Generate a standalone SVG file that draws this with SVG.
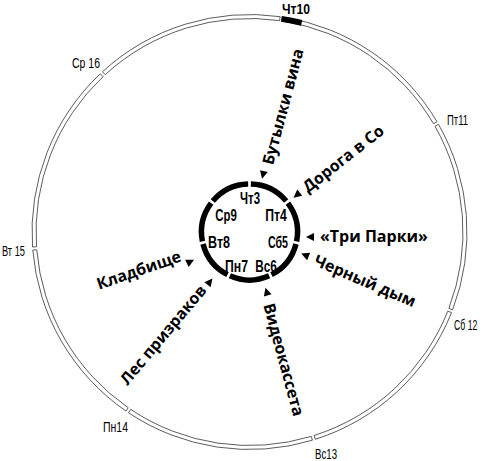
<svg xmlns="http://www.w3.org/2000/svg" xmlns:xlink="http://www.w3.org/1999/xlink" width="484" height="461" viewBox="0 0 484 461">
<style>
.band{fill:#fff;stroke:#333;stroke-width:0.8}
.ring{fill:none;stroke:#000;stroke-width:5.5}
.day{font-family:"Liberation Sans",Arial,sans-serif;font-weight:700;font-size:17px;fill:#000;text-anchor:middle}
.od{font-family:"Liberation Sans",Arial,sans-serif;font-size:15.5px;fill:#000}
.lbl{font-family:"Open Sans","Noto Sans",sans-serif;font-weight:700;font-size:16px;fill:#000}
</style>
<defs>
<path id="arr" d="M-4,0 L4,-4 L4,4 Z" fill="#000"/>
</defs>
<rect width="484" height="461" fill="#fff"/>
<g id="outer-ring">
<path class="band" d="M283.15,17.12 A217.5,217.5 0 0 1 436.97,121.71 L433.52,123.73 A213.5,213.5 0 0 0 282.53,21.07 Z"/>
<path class="band" d="M438.49,124.34 A217.5,217.5 0 0 1 452.61,309.80 L448.87,308.37 A213.5,213.5 0 0 0 435.01,126.32 Z"/>
<path class="band" d="M451.50,312.63 A217.5,217.5 0 0 1 315.30,439.31 L314.09,435.50 A213.5,213.5 0 0 0 447.79,311.15 Z"/>
<path class="band" d="M312.40,440.21 A217.5,217.5 0 0 1 128.47,412.72 L130.70,409.39 A213.5,213.5 0 0 0 311.24,436.38 Z"/>
<path class="band" d="M125.96,411.02 A217.5,217.5 0 0 1 32.75,250.05 L36.74,249.72 A213.5,213.5 0 0 0 128.23,407.73 Z"/>
<path class="band" d="M32.52,247.02 A217.5,217.5 0 0 1 100.25,73.79 L103.00,76.70 A213.5,213.5 0 0 0 36.51,246.74 Z"/>
<path class="band" d="M102.47,71.72 A217.5,217.5 0 0 1 280.15,16.67 L279.58,20.63 A213.5,213.5 0 0 0 105.18,74.67 Z"/>
<path d="M281.80,15.90 A218.5,218.5 0 0 1 302.36,19.99 L300.91,25.81 A212.5,212.5 0 0 0 280.91,21.83 Z" fill="#000"/>
</g>
<g id="outer-days">
<text class="od" x="282" y="14" font-weight="700" textLength="28" lengthAdjust="spacingAndGlyphs">Чт10</text>
<text class="od" x="447" y="125" textLength="21" lengthAdjust="spacingAndGlyphs">Пт11</text>
<text class="od" transform="translate(454,330) scale(0.56,1)">Сб 12</text>
<text class="od" x="315" y="459" textLength="22" lengthAdjust="spacingAndGlyphs">Вс13</text>
<text class="od" x="103" y="432" textLength="25" lengthAdjust="spacingAndGlyphs">Пн14</text>
<text class="od" x="2" y="256" textLength="23" lengthAdjust="spacingAndGlyphs">Вт 15</text>
<text class="od" x="72" y="68" textLength="28" lengthAdjust="spacingAndGlyphs">Ср 16</text>
</g>
<g id="inner-ring">
<path class="ring" d="M250.84,184.02 A48,48 0 0 1 286.18,201.04"/>
<path class="ring" d="M287.85,203.13 A48,48 0 0 1 296.58,241.37"/>
<path class="ring" d="M295.98,243.99 A48,48 0 0 1 271.52,274.65"/>
<path class="ring" d="M269.11,275.81 A48,48 0 0 1 229.89,275.81"/>
<path class="ring" d="M227.48,274.65 A48,48 0 0 1 203.02,243.99"/>
<path class="ring" d="M202.42,241.37 A48,48 0 0 1 211.15,203.13"/>
<path class="ring" d="M212.82,201.04 A48,48 0 0 1 248.16,184.02"/>
</g>
<g id="inner-days">
<text class="day" x="250" y="203.5" textLength="20" lengthAdjust="spacingAndGlyphs">Чт3</text>
<text class="day" x="276" y="220.5" textLength="21.5" lengthAdjust="spacingAndGlyphs">Пт4</text>
<text class="day" x="278" y="247.5" textLength="20" lengthAdjust="spacingAndGlyphs">Сб5</text>
<text class="day" x="266" y="272" textLength="21.5" lengthAdjust="spacingAndGlyphs">Вс6</text>
<text class="day" x="236.5" y="272" textLength="23" lengthAdjust="spacingAndGlyphs">Пн7</text>
<text class="day" x="219" y="247.5" textLength="22" lengthAdjust="spacingAndGlyphs">Вт8</text>
<text class="day" x="226" y="220.5" textLength="21.5" lengthAdjust="spacingAndGlyphs">Ср9</text>
</g>
<g id="connectors">
<use xlink:href="#arr" transform="translate(249.5,232) rotate(-76.7) translate(58.6,0)"/>
<use xlink:href="#arr" transform="translate(249.5,232) rotate(-38) translate(59.8,0)"/>
<use xlink:href="#arr" transform="translate(310,237)"/>
<use xlink:href="#arr" transform="translate(249.5,232) rotate(22.5) translate(60,0)"/>
<use xlink:href="#arr" transform="translate(249.5,232) rotate(74) translate(62,0)"/>
<use xlink:href="#arr" transform="translate(249.5,232) rotate(128.5) translate(63.5,0)"/>
<use xlink:href="#arr" transform="translate(249.5,232) rotate(153.4) translate(66,0)"/>
</g>
<g id="label-bottles"><text class="lbl" transform="translate(249.5,232) rotate(-75)" x="70" y="5.5">Бутылки вина</text></g>
<g id="label-road"><text class="lbl" transform="translate(249.5,232) rotate(-38)" x="70" y="5.5">Дорога в Со</text></g>
<g id="label-parks"><text class="lbl" x="320" y="242">«Три Парки»</text></g>
<g id="label-smoke"><text class="lbl" transform="translate(249.5,232) rotate(23)" x="71" y="5.5">Черный дым</text></g>
<g id="label-video"><text class="lbl" transform="translate(249.5,232) rotate(75)" x="74" y="5.5">Видеокассета</text></g>
<g id="label-forest"><text class="lbl" transform="translate(249.5,232) rotate(-50)" x="-72" y="5.5" text-anchor="end">Лес призраков</text></g>
<g id="label-cemetery"><text class="lbl" transform="translate(249.5,232) rotate(-19)" x="-73" y="5.5" text-anchor="end">Кладбище</text></g>
</svg>
